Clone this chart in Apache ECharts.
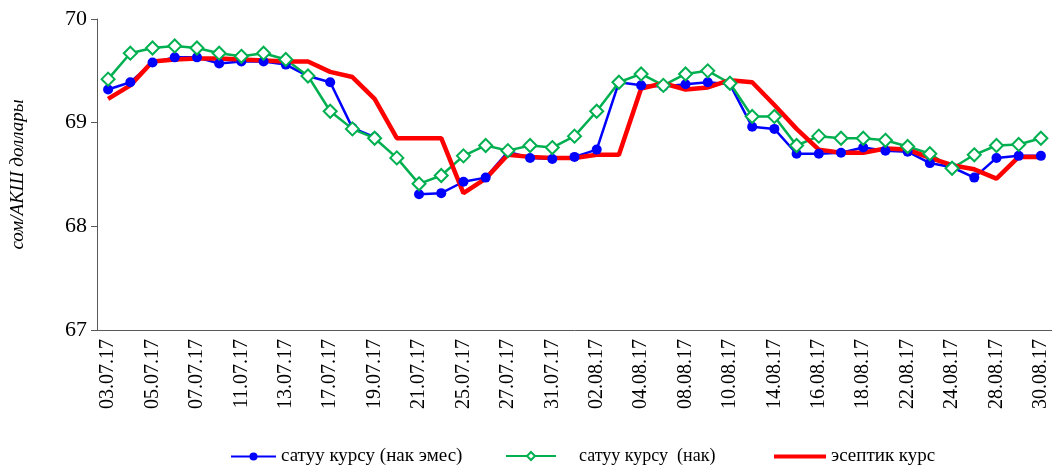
<!DOCTYPE html>
<html>
<head>
<meta charset="utf-8">
<script src="https://cdn.jsdelivr.net/npm/echarts@6/dist/echarts.min.js"></script>
<style>
  html, body { margin: 0; padding: 0; background: #fff; }
  #main { width: 1052px; height: 466px; }
</style>
</head>
<body>
<div id="main"></div>
<script>
// даталар (дата, курстар)
var dates = ['03.07.17','04.07.17','05.07.17','06.07.17','07.07.17','10.07.17','11.07.17','12.07.17','13.07.17','14.07.17',
  '17.07.17','18.07.17','19.07.17','20.07.17','21.07.17','24.07.17','25.07.17','26.07.17','27.07.17','28.07.17',
  '31.07.17','01.08.17','02.08.17','03.08.17','04.08.17','07.08.17','08.08.17','09.08.17','10.08.17','11.08.17',
  '14.08.17','15.08.17','16.08.17','17.08.17','18.08.17','21.08.17','22.08.17','23.08.17','24.08.17','25.08.17',
  '28.08.17','29.08.17','30.08.17'];

// сатуу курсу (нак эмес)
var sellNonCash = [69.32,69.39,69.58,69.63,69.63,69.57,69.59,69.59,69.56,69.45,
  69.39,68.95,68.86,null,68.31,68.32,68.43,68.47,68.72,68.66,
  68.65,68.67,68.74,69.39,69.36,69.35,69.37,69.39,69.37,68.96,
  68.94,68.70,68.70,68.71,68.76,68.73,68.72,68.61,68.57,68.47,
  68.66,68.68,68.68];

// сатуу курсу (нак)
var sellCash = [69.42,69.67,69.72,69.74,69.72,69.67,69.64,69.67,69.61,69.45,
  69.11,68.94,68.85,68.66,68.41,68.49,68.68,68.78,68.73,68.78,
  68.76,68.87,69.11,69.39,69.47,69.36,69.47,69.50,69.38,69.06,
  69.06,68.78,68.87,68.85,68.85,68.83,68.77,68.70,68.56,68.69,
  68.78,68.79,68.85];

// эсептик курс
var officialRate = [69.23,69.36,69.59,69.61,69.62,69.62,69.61,69.60,69.59,69.59,
  69.49,69.44,69.23,68.85,68.85,68.85,68.32,68.46,68.69,68.67,
  68.66,68.66,68.69,68.69,69.33,69.38,69.32,69.34,69.41,69.39,
  69.17,68.94,68.74,68.71,68.71,68.75,68.74,68.66,68.59,68.55,
  68.46,68.67,68.67];

var names = ['сатуу курсу (нак эмес)', 'сатуу курсу  (нак)', 'эсептик курс'];
var yTicks = [67, 70, 1];

var serif = 'Liberation Serif';
var axisColor = '#595959';

function legendText(padLeft, size) {
    return { fontFamily: serif, fontSize: size, color: '#000', padding: [0, 0, 0, padLeft] };
}

var option = {
    animation: false,
    grid: { left: 95, top: 19, width: 959, height: 311, containLabel: false },
    legend: [
        { data: [names[0]], left: 225, top: 442, itemWidth: 45, itemHeight: 10, itemGap: 0, textStyle: legendText(0, 19) },
        { data: [names[1]], left: 500, top: 442, itemWidth: 50, itemHeight: 10, itemGap: 0, textStyle: legendText(18, 18) },
        { data: [{ name: names[2], icon: 'rect' }], left: 769, top: 442, itemWidth: 52, itemHeight: 4, itemGap: 0, textStyle: legendText(0, 19) }
    ],
    xAxis: {
        type: 'category',
        data: dates,
        boundaryGap: true,
        axisLine: { lineStyle: { color: axisColor, width: 1 } },
        axisTick: { interval: 0, length: 5, lineStyle: { color: axisColor } },
        axisLabel: { interval: 1, rotate: 90, margin: 9, fontFamily: serif, fontSize: 20, color: '#000' }
    },
    yAxis: {
        type: 'value',
        min: yTicks[0],
        max: yTicks[1],
        interval: yTicks[2],
        name: 'сом/АКШ доллары',
        nameLocation: 'middle',
        nameRotate: 90,
        nameGap: 70,
        nameTextStyle: { fontFamily: serif, fontStyle: 'italic', fontSize: 19, color: '#000' },
        splitLine: { show: false },
        axisLine: { show: true, lineStyle: { color: axisColor, width: 1 } },
        axisTick: { show: true, length: 6, lineStyle: { color: axisColor } },
        axisLabel: { margin: 10, fontFamily: serif, fontSize: 22, color: '#000' }
    },
    series: [
        {
            name: names[0],
            type: 'line',
            data: sellNonCash,
            color: '#0000ff',
            symbol: 'circle',
            symbolSize: 10,
            lineStyle: { width: 2.5, color: '#0000ff' },
            itemStyle: { color: '#0000ff' }
        },
        {
            name: names[1],
            type: 'line',
            data: sellCash,
            color: '#00b050',
            symbol: 'diamond',
            symbolSize: 13,
            lineStyle: { width: 2.5, color: '#00b050' },
            itemStyle: { color: '#ffffff', borderColor: '#00b050', borderWidth: 2 }
        },
        {
            name: names[2],
            type: 'line',
            data: officialRate,
            color: '#ff0000',
            symbol: 'none',
            lineStyle: { width: 4.5, color: '#ff0000' }
        }
    ]
};

var chart = echarts.init(document.getElementById('main'));
chart.setOption(option);
</script>
</body>
</html>
